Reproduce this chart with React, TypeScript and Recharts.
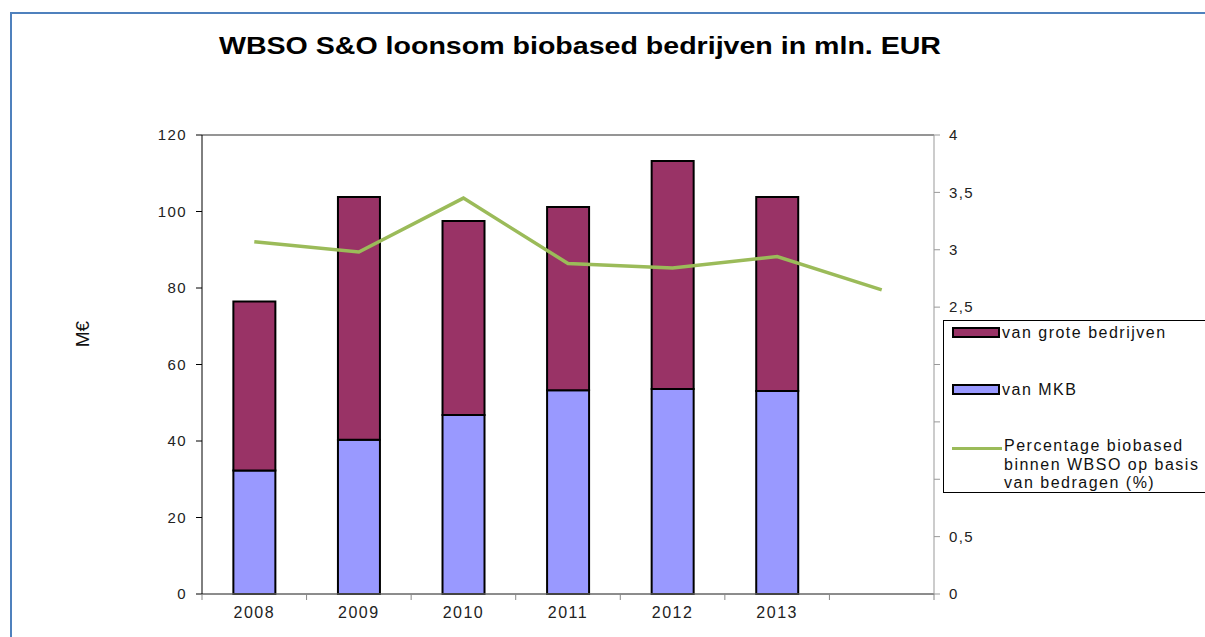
import {
  Bar,
  CartesianGrid,
  ComposedChart,
  Line,
  ReferenceLine,
  XAxis,
  YAxis,
} from "recharts";

const years = ["2008", "2009", "2010", "2011", "2012", "2013", ""];
const mkb = [32.3, 40.3, 46.8, 53.3, 53.6, 53.1, null];
const groteBedrijven = [44.2, 63.5, 50.7, 47.9, 59.6, 50.7, null];
const percentage = [3.07, 2.98, 3.45, 2.88, 2.84, 2.94, 2.65];

const leftTicks = [0, 20, 40, 60, 80, 100, 120];
const rightTicks = [0, 0.5, 1, 1.5, 2, 2.5, 3, 3.5, 4];

const data = years.map((year, i) => ({
  year,
  mkb: mkb[i],
  grote: groteBedrijven[i],
  pct: percentage[i],
}));

const FONT = "'Liberation Sans', Arial, sans-serif";
const MKB_COLOR = "#9999ff";
const GROTE_COLOR = "#993366";
const LINE_COLOR = "#9bbb59";
const BAND = (934 - 202) / years.length;
const tickStyle = { fontSize: 15, fill: "#222", fontFamily: FONT, letterSpacing: 1.4 };

function YearTick(props: any) {
  const { x, y, payload, index } = props;
  const half = BAND / 2;
  return (
    <g>
      <line x1={x - half} x2={x - half} y1={y - 8} y2={y - 2} stroke="#888" />
      {index === years.length - 1 && (
        <line x1={x + half} x2={x + half} y1={y - 8} y2={y - 2} stroke="#888" />
      )}
      <text
        x={x}
        y={y + 16}
        textAnchor="middle"
        fontSize={16}
        fill="#222"
        fontFamily={FONT}
        letterSpacing={1.5}
      >
        {payload.value}
      </text>
    </g>
  );
}

function LegendBox() {
  const swatch = (color: string) => (
    <span
      style={{
        display: "inline-block",
        width: 44,
        height: 7,
        background: color,
        border: "2px solid #000",
        marginRight: 2,
        verticalAlign: "middle",
      }}
    />
  );
  return (
    <div
      style={{
        position: "absolute",
        left: 943,
        top: 320,
        width: 270,
        height: 173,
        border: "1px solid #000",
        background: "#fff",
        fontFamily: FONT,
        fontSize: 16,
        letterSpacing: 1.5,
        color: "#111",
        boxSizing: "border-box",
      }}
    >
      <div style={{ position: "absolute", left: 8, top: 2, whiteSpace: "nowrap" }}>
        {swatch(GROTE_COLOR)}
        <span style={{ verticalAlign: "middle" }}>van grote bedrijven</span>
      </div>
      <div style={{ position: "absolute", left: 8, top: 59, whiteSpace: "nowrap" }}>
        {swatch(MKB_COLOR)}
        <span style={{ verticalAlign: "middle" }}>van MKB</span>
      </div>
      <div style={{ position: "absolute", left: 8, top: 116, display: "flex", whiteSpace: "nowrap" }}>
        <span
          style={{
            display: "inline-block",
            width: 50,
            height: 3,
            background: LINE_COLOR,
            marginTop: 10,
            marginRight: 2,
          }}
        />
        <span style={{ lineHeight: "18.5px" }}>
          Percentage biobased
          <br />
          binnen WBSO op basis
          <br />
          van bedragen (%)
        </span>
      </div>
    </div>
  );
}

export default function App() {
  return (
    <div
      style={{
        position: "absolute",
        left: 0,
        top: 0,
        width: 1205,
        height: 637,
        background: "#fff",
        overflow: "hidden",
      }}
    >
      <div
        style={{
          position: "absolute",
          left: 10,
          top: 12,
          width: 1205,
          height: 640,
          borderLeft: "2px solid #4f81bd",
          borderTop: "2px solid #4f81bd",
        }}
      />
      <div
        style={{
          position: "absolute",
          left: 580,
          top: 32,
          transform: "translateX(-50%) scaleX(1.19)",
          whiteSpace: "nowrap",
          fontFamily: FONT,
          fontWeight: "bold",
          fontSize: 24,
          color: "#000",
        }}
      >
        WBSO S&amp;O loonsom biobased bedrijven in mln. EUR
      </div>
      <div
        style={{
          position: "absolute",
          left: 70,
          top: 323,
          transform: "rotate(-90deg)",
          fontFamily: FONT,
          fontSize: 19,
          color: "#111",
        }}
      >
        M€
      </div>
      <div style={{ position: "absolute", left: 0, top: 0 }}>
        <ComposedChart
          width={1205}
          height={637}
          data={data}
          margin={{ top: 135, right: 211, bottom: 13, left: 142 }}
          barCategoryGap="30%"
        >
          <CartesianGrid vertical={false} stroke="#222" />
          <XAxis
            dataKey="year"
            height={30}
            stroke="#888"
            tickLine={false}
            tick={<YearTick />}
            interval={0}
          />
          <YAxis
            yAxisId="left"
            width={60}
            domain={[0, 120]}
            ticks={leftTicks}
            stroke="#000"
            tickSize={6}
            tickMargin={9}
            tick={tickStyle}
          />
          <YAxis
            yAxisId="right"
            orientation="right"
            width={60}
            domain={[0, 4]}
            ticks={rightTicks}
            stroke="#999"
            tickSize={6}
            tickMargin={9}
            tickFormatter={(v: number) => String(v).replace(".", ",")}
            tick={tickStyle}
          />
          <ReferenceLine yAxisId="left" y={120} stroke="#999" />
          <Bar
            yAxisId="left"
            dataKey="mkb"
            stackId="a"
            fill={MKB_COLOR}
            stroke="#000"
            strokeWidth={2}
            isAnimationActive={false}
          />
          <Bar
            yAxisId="left"
            dataKey="grote"
            stackId="a"
            fill={GROTE_COLOR}
            stroke="#000"
            strokeWidth={2}
            isAnimationActive={false}
          />
          <Line
            yAxisId="right"
            dataKey="pct"
            stroke={LINE_COLOR}
            strokeWidth={3.5}
            dot={false}
            isAnimationActive={false}
          />
        </ComposedChart>
      </div>
      <LegendBox />
    </div>
  );
}
